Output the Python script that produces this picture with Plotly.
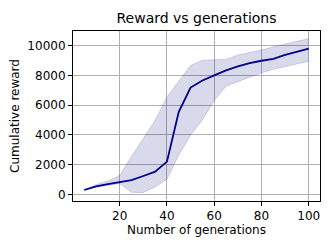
import plotly.graph_objects as go

generations = [5, 10, 15, 20, 25, 30, 35, 40, 45, 50, 55, 60, 65, 70, 75, 80, 85, 90, 95, 100]
reward_mean = [290, 530, 680, 800, 950, 1230, 1520, 2200, 5540, 7180, 7650, 8000, 8330, 8600, 8820, 8980, 9110, 9380, 9560, 9790]
reward_low = [280, 480, 600, 720, 130, 120, 490, 1010, 2630, 3970, 5000, 6300, 7270, 7560, 7850, 8170, 8400, 8570, 8750, 8950]
reward_high = [300, 650, 900, 1270, 2540, 3770, 4980, 6550, 7600, 8660, 9020, 9040, 9070, 9360, 9510, 9700, 9920, 10120, 10300, 10470]

title = "Reward vs generations"
x_label = "Number of generations"
y_label = "Cumulative reward"
x_ticks = [20, 40, 60, 80, 100]
y_ticks = [0, 2000, 4000, 6000, 8000, 10000]

band = "rgba(0,0,128,0.15)"
fig = go.Figure()
fig.add_trace(go.Scatter(x=generations, y=reward_low, mode="lines",
                         line=dict(color=band, width=1), showlegend=False, hoverinfo="skip"))
fig.add_trace(go.Scatter(x=generations, y=reward_high, mode="lines", fill="tonexty",
                         fillcolor=band, line=dict(color=band, width=1), showlegend=False, hoverinfo="skip"))
fig.add_trace(go.Scatter(x=generations, y=reward_mean, mode="lines",
                         line=dict(color="#00008b", width=1.8), showlegend=False))

common = dict(showline=True, linecolor="black", linewidth=1.1, mirror=True,
              ticks="outside", ticklen=4, tickwidth=1, tickcolor="black",
              showgrid=True, gridcolor="#b0b0b0", gridwidth=1, zeroline=False,
              tickfont=dict(size=12, color="black"))
fig.update_xaxes(range=[0.25, 104.75], tickvals=x_ticks, ticktext=[str(v) for v in x_ticks],
                 title=dict(text=x_label, font=dict(size=12), standoff=3), **common)
fig.update_yaxes(range=[-450, 10980], tickvals=y_ticks, ticktext=[str(v) for v in y_ticks],
                 title=dict(text=y_label, font=dict(size=12), standoff=5), **common)

fig.update_layout(
    width=332, height=249,
    margin=dict(l=73, r=12, t=31, b=48, autoexpand=False),
    paper_bgcolor="white", plot_bgcolor="white",
    font=dict(family="DejaVu Sans", color="black"),
    title=dict(text=title, x=(73 + 320) / 2 / 332, xanchor="center", y=1 - 18 / 249, yanchor="middle",
               font=dict(size=14, color="black")),
)

fig.write_html("out.html", config={"displayModeBar": False},
               post_script="document.body.style.margin='0px';document.body.style.overflow='hidden';")
